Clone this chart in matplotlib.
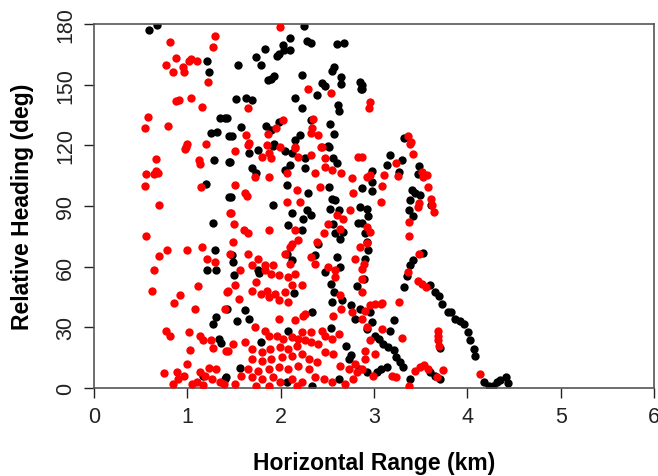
import matplotlib
matplotlib.use("Agg")
import matplotlib.pyplot as plt

# ---- black series (km, deg) ----
black_x = [0.59,0.68,1.21,1.23,1.35,1.40,1.25,1.32,1.45,
 2.25,2.10,2.28,2.33,2.60,2.68,1.83,2.02,2.04,2.10,1.98,1.96,1.74,1.79,1.54,2.57,2.55,2.23,1.93,1.90,1.86,
 2.65,2.65,2.44,2.48,2.85,2.86,2.39,2.15,1.52,1.63,1.69,2.23,2.61,2.62,1.42,1.98,2.32,1.58,1.84,1.90,2.53,
 2.57,2.21,1.48,1.93,2.15,2.51,
 2.87,2.87,3.32,
 1.29,1.45,1.20,1.45,1.28,1.30,1.21,1.31,
 3.17,3.14,3.30,3.27,2.98,2.98,2.98,2.87,3.48,3.47,3.41,3.44,3.49,3.39,3.37,3.61,3.42,2.92,2.94,2.87,2.90,
 2.92,2.94,2.90,3.53,3.42,3.39,
 2.89,3.35,3.32,3.60,3.65,3.70,3.73,3.79,3.83,3.87,3.92,3.96,4.01,4.03,4.07,4.08,4.18,4.23,4.28,4.32,
 2.96,2.98,2.93,3.01,3.05,3.10,3.15,3.21,3.24,3.28,3.31,3.21,3.17,3.14,3.08,3.03,2.92,3.39,3.60,3.65,3.71,3.71,
 4.35,4.41,4.44,
 1.31,1.28,1.34,1.36,1.17,1.40,
 1.50,1.77,2.47,2.54,2.57,2.66,2.75,2.85,2.80,1.43,1.62,1.53,1.66,2.34,2.54,2.08,1.79,1.56,1.41,2.07,2.62,
 2.34,2.73,2.75,2.84,2.70,2.14,2.55,2.82,
 1.46,1.66,1.76,1.92,2.05,2.12,2.26,2.52,2.56,2.60,1.69,1.74,1.47,1.92,2.05,2.07,2.26,2.29,2.52,2.55,2.58,
 2.53,2.62,2.12,2.24,2.28,2.33,2.08,2.23,2.56,2.58,2.64,2.67,2.40,2.83,2.85,1.48,1.49,1.76,2.07,2.12,2.37,
 2.60,2.64,2.10]
black_y = [177.0,179.3,161.5,156.5,133.4,133.4,125.9,126.8,124.4,
 179.0,173.0,171.7,170.7,170.1,170.7,167.7,169.4,166.9,167.2,165.2,164.3,163.5,159.5,159.8,158.5,156.8,154.8,154.5,152.9,152.2,
 154.0,150.2,150.7,149.4,151.2,147.9,144.9,143.6,142.8,143.3,142.6,138.3,139.7,137.0,133.7,131.7,132.5,128.9,129.7,127.4,130.4,
 125.8,125.1,124.4,120.5,122.8,119.8,
 149.9,147.9,123.5,
 112.7,111.9,100.8,94.5,81.7,68.4,58.5,58.5,
 115.2,110.2,112.7,106.9,107.4,102.0,97.5,98.7,109.7,105.8,97.8,96.2,95.3,92.9,87.9,90.4,84.9,88.7,84.9,81.7,76.4,
 72.2,68.1,64.0,66.8,63.1,60.6,
 54.0,55.4,49.9,50.7,47.4,45.5,41.6,37.8,37.5,34.2,32.9,31.7,27.6,23.5,19.3,15.7,2.8,1.1,1.1,2.8,
 37.5,32.6,29.3,25.9,24.3,21.8,20.2,19.0,15.2,13.0,10.3,33.4,28.4,10.3,9.4,7.8,7.8,4.5,7.8,6.1,4.5,19.7,
 4.0,5.5,2.5,
 35.1,31.7,24.3,22.3,6.1,4.5,
 55.7,57.0,57.4,51.6,47.4,43.3,40.8,39.2,34.2,39.2,38.8,32.9,33.9,37.8,29.6,28.4,22.7,9.8,5.3,2.8,4.5,
 1.1,14.4,16.4,9.4,21.0,47.1,42.5,50.4,
 111.9,116.4,117.7,119.6,117.4,116.0,113.5,119.0,113.5,111.1,108.6,106.1,94.5,90.7,107.7,100.3,108.6,96.2,99.5,93.7,92.9,
 88.7,87.9,86.3,83.8,87.9,85.4,80.5,78.3,81.3,76.4,73.9,77.2,71.4,81.7,89.6,65.6,62.3,58.2,66.4,63.1,65.6,
 64.8,59.8,110.2]

# ---- red series (km, deg) ----
red_x = [0.81,1.30,1.27,0.88,0.77,0.85,0.95,0.96,1.02,1.04,1.10,1.22,0.88,0.91,1.04,1.16,0.58,0.55,0.79,1.00,1.20,
 1.99,2.29,2.54,1.65,2.03,1.95,1.86,2.35,2.34,2.32,2.40,1.63,1.66,1.85,2.15,2.43,
 2.96,2.95,3.36,3.40,
 0.99,0.98,0.66,0.56,0.64,0.66,0.69,0.55,0.70,0.56,0.70,0.78,1.00,1.16,1.21,1.30,0.64,1.13,1.14,1.15,1.46,1.46,
 2.87,3.24,3.11,3.09,3.08,2.93,2.96,3.26,3.42,3.39,3.51,3.53,3.57,3.58,3.61,3.62,3.64,3.47,3.48,3.37,3.37,3.48,
 2.92,2.96,2.93,2.89,3.36,
 3.47,3.51,3.56,3.27,2.96,3.01,3.07,3.09,2.90,2.87,2.92,3.09,3.30,2.96,3.01,2.90,2.90,2.87,2.99,3.19,3.24,3.38,
 3.44,3.49,3.54,3.58,3.74,3.68,3.69,3.69,3.69,3.70,4.14,
 0.62,0.92,0.86,1.11,1.08,1.42,1.40,0.77,0.81,1.02,1.14,1.17,1.25,1.27,1.03,1.41,1.00,0.75,0.89,0.96,0.90,1.14,
 1.23,1.31,1.19,1.26,1.35,1.39,1.10,1.05,1.17,0.85,
 1.56,1.83,1.90,1.98,2.08,2.15,2.23,2.12,2.05,1.94,1.85,1.74,1.69,1.79,1.88,1.98,2.08,1.55,1.51,1.44,2.24,2.15,
 1.98,1.73,1.83,1.87,1.96,2.03,2.12,2.19,2.26,2.33,2.40,2.48,2.55,2.62,2.44,2.33,2.23,2.17,2.08,1.99,1.89,1.80,
 1.69,1.62,1.49,1.44,1.69,1.80,1.90,2.01,2.12,2.23,2.30,2.39,2.48,2.56,2.30,2.19,2.08,1.98,1.87,1.76,1.65,1.58,
 1.69,1.80,1.92,1.99,2.12,2.23,2.37,2.46,2.55,2.69,2.78,2.82,2.80,2.73,2.64,1.51,1.74,1.87,2.17,2.26,2.56,2.65,
 2.76,2.87,2.87,2.58,2.64,
 1.51,1.65,1.80,1.87,1.90,1.99,2.15,2.19,2.32,2.44,2.48,2.48,1.73,1.87,2.07,2.37,2.42,2.17,2.21,2.07,1.51,1.62,
 1.64,1.47,1.50,1.61,1.65,1.49,1.87,2.15,2.19,2.12,2.10,2.05,2.39,2.46,2.60,2.51,2.64,2.67,2.78,2.74,2.76,2.83,
 2.65,2.55,1.65,1.76,1.69,1.83,1.92,2.10,2.32,2.37,2.51,2.58,2.85,2.80,2.87]
red_y = [171.2,174.2,168.4,163.0,159.8,156.5,158.5,156.5,161.5,162.6,161.5,151.1,142.1,142.6,143.3,138.8,133.9,128.4,129.5,120.5,120.6,
 178.4,147.7,145.8,138.7,132.5,128.8,125.4,133.0,128.4,125.9,125.1,125.1,121.1,120.1,119.3,119.3,
 141.3,138.3,124.8,121.5,
 119.3,118.0,113.0,105.8,105.8,107.4,106.1,99.8,90.7,75.2,65.1,68.4,68.4,69.6,64.0,62.3,58.5,112.7,110.7,99.2,86.3,66.4,
 114.4,111.1,105.3,99.8,92.1,104.1,105.3,105.0,115.7,120.6,106.9,104.5,105.3,99.5,93.7,90.4,87.1,89.6,91.6,82.2,75.0,66.4,
 79.7,77.2,71.7,61.5,57.4,
 52.7,51.6,49.9,42.5,41.2,41.6,41.6,42.1,38.3,34.2,30.1,29.3,24.6,23.5,16.9,18.5,14.4,9.4,6.1,6.1,5.3,0.8,
 8.6,10.3,11.4,9.4,9.1,5.3,28.4,25.9,23.5,21.0,6.9,
 48.2,46.1,41.8,50.4,39.2,47.4,39.2,28.4,25.9,27.6,25.9,23.5,23.5,19.7,19.0,18.5,11.9,7.4,7.8,6.1,4.5,7.8,
 9.8,9.4,5.8,4.5,2.8,2.0,2.8,2.0,1.5,2.0,
 58.2,58.2,56.5,55.7,54.9,56.5,51.1,50.7,47.4,46.6,48.2,52.4,48.2,46.6,45.0,43.3,42.5,44.1,50.7,48.2,35.8,33.4,
 34.2,30.1,28.4,25.9,25.9,24.3,25.1,24.3,23.5,22.7,21.8,25.9,24.3,26.8,28.4,27.6,27.6,21.0,19.3,20.2,19.3,17.7,
 19.3,22.7,21.8,18.5,14.4,13.5,14.4,15.2,16.0,16.9,14.4,12.7,17.7,16.9,9.4,11.1,9.4,10.3,9.4,8.6,9.4,6.1,
 5.3,4.5,5.3,2.8,4.5,2.8,5.3,4.5,2.8,2.0,4.5,7.8,11.9,9.4,11.1,2.0,1.1,0.8,1.1,36.7,35.8,39.2,
 37.5,54.0,47.4,54.9,45.8,
 117.4,120.1,114.4,116.0,113.5,119.3,118.5,114.4,115.2,119.0,113.5,109.4,104.5,104.5,106.1,106.1,99.5,97.8,92.1,92.1,100.3,96.2,
 94.8,86.3,81.3,78.3,76.7,72.2,78.3,78.3,73.0,71.4,69.8,66.4,72.2,76.7,85.4,81.3,78.8,83.8,96.2,87.9,103.6,114.4,
 106.1,107.7,66.4,64.0,60.6,60.6,60.6,61.5,64.8,61.5,59.8,58.2,69.8,64.0,59.0]

x_ticks = [0, 1, 2, 3, 4, 5, 6]
y_ticks = [0, 30, 60, 90, 120, 150, 180]

plt.rcParams['font.family'] = ['Liberation Sans', 'DejaVu Sans']

fig = plt.figure(figsize=(6.58, 4.77), dpi=100)
ax = fig.add_axes([0.1429, 0.1845, 0.8510, 0.7631])

ax.scatter(black_x, black_y, s=36, c='black', linewidths=0, zorder=2)
ax.scatter(red_x, red_y, s=36, c='#ff0000', linewidths=0, zorder=3)

ax.set_xlim(0, 6)
ax.set_ylim(0, 180)
ax.set_xticks(x_ticks)
ax.set_yticks(y_ticks)
ax.set_xticklabels([str(v) for v in x_ticks], fontsize=15.5)
ax.set_yticklabels([str(v) for v in y_ticks], fontsize=15.5, rotation=90, va='center')
ax.tick_params(direction='out', length=7, width=1, pad=6, colors='#222222')
for sp in ax.spines.values():
    sp.set_linewidth(1.2)
    sp.set_color('#555555')

ax.set_xlabel('Horizontal Range (km)', fontsize=16.5, fontweight='bold', labelpad=17)
ax.set_ylabel('Relative Heading (deg)', fontsize=16.5, fontweight='bold', labelpad=15)

fig.savefig('out.png', dpi=100)
